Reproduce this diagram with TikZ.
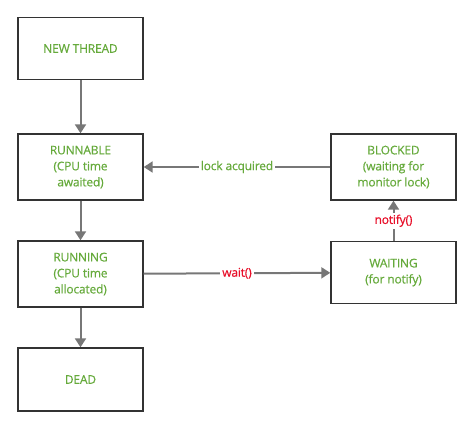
\documentclass[tikz,border=0pt]{standalone}
\usepackage{fontspec}
\setmainfont{Open Sans}
\newfontfamily\diagfont{Open Sans}[FakeBold=0.5, LetterSpace=-1.5]
\usetikzlibrary{arrows.meta}
\definecolor{stategreen}{HTML}{66AA3C}
\definecolor{callred}{HTML}{E8102A}
\definecolor{edgegray}{HTML}{777777}
\tikzset{
	state/.style={draw=black!80, line width=1.4pt, minimum width=125pt,
		align=center, text=stategreen, inner sep=0pt,
		font=\diagfont\fontsize{12}{16}\selectfont},
	trans/.style={draw=edgegray, line width=2pt,
		-{Triangle[width=11pt,length=9pt]}},
	lbl/.style={fill=white, inner sep=2pt,
		font=\diagfont\fontsize{12}{16}\selectfont}
}

\begin{document}
\begin{tikzpicture}[x=1pt, y=-1pt]
	\useasboundingbox (0,0) rectangle (474,429);
	\node [state, minimum height=62pt] (1) at (80.5,48.5)
		{NEW THREAD};
	\node [state, minimum height=66pt] (2) at (80.5,167)
		{RUNNABLE\\(CPU time\\awaited)};
	\node [state, minimum height=66pt] (3) at (80.5,274)
		{RUNNING\\(CPU time\\allocated)};
	\node [state, minimum height=63pt] (4) at (80.5,379.5)
		{DEAD};
	\node [state, minimum height=66pt] (5) at (393.5,167)
		{BLOCKED\\(waiting for\\monitor lock)};
	\node [state, minimum height=62pt] (6) at (393.5,272.5)
		{WAITING\\(for notify)};
	\draw [trans] (1) to (2);
	\draw [trans] (2) to (3);
	\draw [trans] (3) to (4);
	\draw [trans] (5) to
		node [lbl, text=stategreen] {lock acquired}
		(2);
	\draw [trans] (3) to
		node [lbl, text=callred] {wait()}
		(6);
	\draw [trans] (6) to
		node [lbl, text=callred] {notify()}
		(5);
\end{tikzpicture}
\end{document}
